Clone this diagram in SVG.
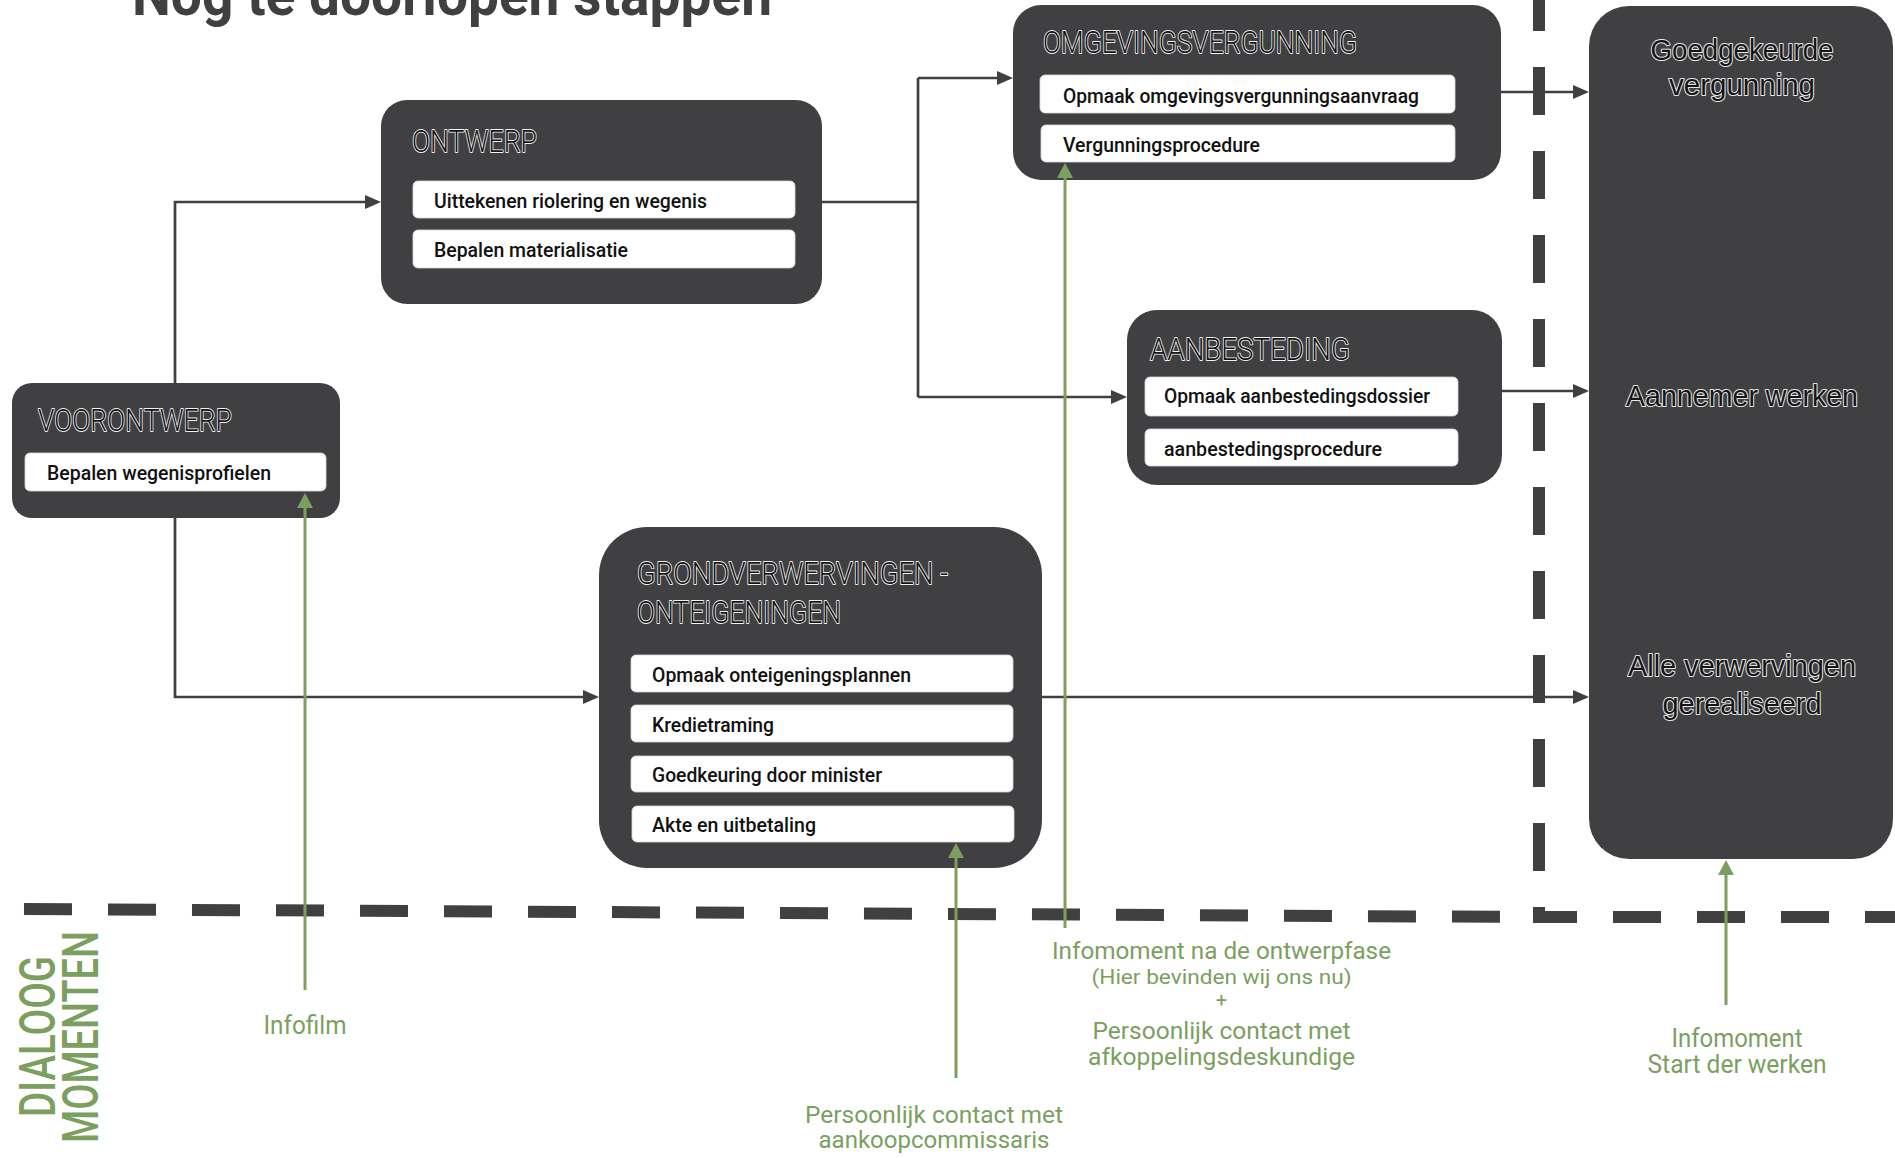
<svg xmlns="http://www.w3.org/2000/svg" width="1895" height="1158" viewBox="0 0 1895 1158">
<defs>
<style>
.node{fill:#404043}
.item{fill:#ffffff;stroke:#d9d9d9;stroke-width:0.8}
.itxt{font-family:Roboto,"Liberation Sans",sans-serif;font-weight:500;font-size:21px;fill:#111111}
.ttl{font-family:Roboto,"Liberation Sans",sans-serif;font-weight:300;font-size:31px;fill:#151515;stroke:#f2f2f2;stroke-width:1.8;paint-order:stroke;stroke-linejoin:round}
.rtxt{font-family:"Liberation Sans",Arial,sans-serif;font-weight:400;font-size:29px;fill:#151515;stroke:#e6e6e6;stroke-width:2;paint-order:stroke;stroke-linejoin:round;text-anchor:middle}
.con{fill:none;stroke:#404043;stroke-width:2.7}
.gcon{fill:none;stroke:#7b9f5f;stroke-width:3}
.dash{fill:none;stroke:#404043;stroke-width:12;stroke-dasharray:48 36}
.gtxt{font-family:Roboto,"Liberation Sans",sans-serif;font-weight:400;fill:#7b9f5f;text-anchor:middle}
.big{font-family:Roboto,"Liberation Sans",sans-serif;font-weight:500;font-size:50px;fill:#7b9f5f}
</style>
<marker id="ah" viewBox="0 0 16 14" refX="12" refY="7" markerWidth="16" markerHeight="14" markerUnits="userSpaceOnUse" orient="auto">
<path d="M0 0 L16 7 L0 14 z" fill="#404043"/>
</marker>
<marker id="gah" viewBox="0 0 15 16" refX="11" refY="8" markerWidth="15" markerHeight="16" markerUnits="userSpaceOnUse" orient="auto">
<path d="M0 0 L15 8 L0 16 z" fill="#7b9f5f"/>
</marker>
</defs>
<rect width="1895" height="1158" fill="#ffffff"/>

<text x="132" y="15" font-family="Roboto,'Liberation Sans',sans-serif" font-weight="700" font-size="60" fill="#404043" textLength="640" lengthAdjust="spacingAndGlyphs">Nog te doorlopen stappen</text>

<g id="dividers">
<path class="dash" d="M24 909 L1530 917"/>
<path class="dash" d="M1539 -17 V917 H1900" stroke-linejoin="miter"/>
</g>

<g id="voorontwerp">
<rect class="node" x="12" y="383" width="328" height="135" rx="20"/>
<text class="ttl" x="38" y="431" textLength="194" lengthAdjust="spacingAndGlyphs">VOORONTWERP</text>
<rect class="item" x="25" y="453" width="301" height="38" rx="5"/>
<text class="itxt" x="47" y="480" textLength="224" lengthAdjust="spacingAndGlyphs">Bepalen wegenisprofielen</text>
</g>

<g id="ontwerp">
<rect class="node" x="381" y="100" width="441" height="204" rx="26"/>
<text class="ttl" x="412" y="152" textLength="125" lengthAdjust="spacingAndGlyphs">ONTWERP</text>
<rect class="item" x="413" y="181" width="382" height="37" rx="5"/>
<text class="itxt" x="434" y="208" textLength="273" lengthAdjust="spacingAndGlyphs">Uittekenen riolering en wegenis</text>
<rect class="item" x="413" y="230" width="382" height="38" rx="5"/>
<text class="itxt" x="434" y="257" textLength="194" lengthAdjust="spacingAndGlyphs">Bepalen materialisatie</text>
</g>

<g id="omgevingsvergunning">
<rect class="node" x="1013" y="5" width="488" height="175" rx="28"/>
<text class="ttl" x="1043" y="53" textLength="314" lengthAdjust="spacingAndGlyphs">OMGEVINGSVERGUNNING</text>
<rect class="item" x="1040" y="75" width="415" height="38" rx="5"/>
<text class="itxt" x="1063" y="103" textLength="356" lengthAdjust="spacingAndGlyphs">Opmaak omgevingsvergunningsaanvraag</text>
<rect class="item" x="1041" y="125" width="414" height="37" rx="5"/>
<text class="itxt" x="1063" y="152" textLength="197" lengthAdjust="spacingAndGlyphs">Vergunningsprocedure</text>
</g>

<g id="aanbesteding">
<rect class="node" x="1127" y="310" width="375" height="175" rx="30"/>
<text class="ttl" x="1150" y="360" textLength="200" lengthAdjust="spacingAndGlyphs">AANBESTEDING</text>
<rect class="item" x="1145" y="377" width="313" height="39" rx="5"/>
<text class="itxt" x="1164" y="403" textLength="266" lengthAdjust="spacingAndGlyphs">Opmaak aanbestedingsdossier</text>
<rect class="item" x="1145" y="429" width="313" height="37" rx="5"/>
<text class="itxt" x="1164" y="456" textLength="218" lengthAdjust="spacingAndGlyphs">aanbestedingsprocedure</text>
</g>

<g id="grondverwervingen">
<rect class="node" x="599" y="527" width="443" height="341" rx="48"/>
<text class="ttl" x="637" y="584" textLength="311" lengthAdjust="spacingAndGlyphs">GRONDVERWERVINGEN -</text>
<text class="ttl" x="637" y="623" textLength="204" lengthAdjust="spacingAndGlyphs">ONTEIGENINGEN</text>
<rect class="item" x="631" y="655" width="382" height="37" rx="5"/>
<text class="itxt" x="652" y="682" textLength="259" lengthAdjust="spacingAndGlyphs">Opmaak onteigeningsplannen</text>
<rect class="item" x="631" y="705" width="382" height="37" rx="5"/>
<text class="itxt" x="652" y="732" textLength="122" lengthAdjust="spacingAndGlyphs">Kredietraming</text>
<rect class="item" x="631" y="756" width="382" height="36" rx="5"/>
<text class="itxt" x="652" y="782" textLength="230" lengthAdjust="spacingAndGlyphs">Goedkeuring door minister</text>
<rect class="item" x="632" y="806" width="382" height="36" rx="5"/>
<text class="itxt" x="652" y="832" textLength="164" lengthAdjust="spacingAndGlyphs">Akte en uitbetaling</text>
</g>

<g id="resultaat">
<rect class="node" x="1589" y="6" width="304" height="853" rx="40"/>
<text class="rtxt" x="1742" y="60" textLength="183" lengthAdjust="spacingAndGlyphs">Goedgekeurde</text>
<text class="rtxt" x="1742" y="95" textLength="146" lengthAdjust="spacingAndGlyphs">vergunning</text>
<text class="rtxt" x="1742" y="406" textLength="232" lengthAdjust="spacingAndGlyphs">Aannemer werken</text>
<text class="rtxt" x="1742" y="676" textLength="228" lengthAdjust="spacingAndGlyphs">Alle verwervingen</text>
<text class="rtxt" x="1742" y="714" textLength="159" lengthAdjust="spacingAndGlyphs">gerealiseerd</text>
</g>

<g id="connectors">
<path class="con" d="M175 383 V202 H377" marker-end="url(#ah)"/>
<path class="con" d="M175 518 V697 H595" marker-end="url(#ah)"/>
<path class="con" d="M822 202 H918"/>
<path class="con" d="M918 78 V397"/>
<path class="con" d="M918 78 H1009" marker-end="url(#ah)"/>
<path class="con" d="M918 397 H1123" marker-end="url(#ah)"/>
<path class="con" d="M1501 92 H1585" marker-end="url(#ah)"/>
<path class="con" d="M1502 391 H1585" marker-end="url(#ah)"/>
<path class="con" d="M1042 697 H1585" marker-end="url(#ah)"/>
<path class="gcon" d="M305 990 V497" marker-end="url(#gah)"/>
<path class="gcon" d="M956 1078 V847" marker-end="url(#gah)"/>
<path class="gcon" d="M1065 928 V167" marker-end="url(#gah)"/>
<path class="gcon" d="M1726 1005 V864" marker-end="url(#gah)"/>
</g>

<g id="dialoog-label">
<text class="big" transform="translate(55,1117) rotate(-90)" textLength="161" lengthAdjust="spacingAndGlyphs">DIALOOG</text>
<text class="big" transform="translate(98,1143) rotate(-90)" textLength="212" lengthAdjust="spacingAndGlyphs">MOMENTEN</text>
</g>

<g id="dialoog-infofilm">
<text class="gtxt" x="305" y="1034" font-size="25" textLength="83" lengthAdjust="spacingAndGlyphs">Infofilm</text>
</g>

<g id="dialoog-aankoop">
<text class="gtxt" x="934" y="1123" font-size="24" textLength="258" lengthAdjust="spacingAndGlyphs">Persoonlijk contact met</text>
<text class="gtxt" x="934" y="1148" font-size="24" textLength="231" lengthAdjust="spacingAndGlyphs">aankoopcommissaris</text>
</g>

<g id="dialoog-ontwerpfase">
<text class="gtxt" x="1221.5" y="959" font-size="23" textLength="339" lengthAdjust="spacingAndGlyphs">Infomoment na de ontwerpfase</text>
<text class="gtxt" x="1221.5" y="984" font-size="20" textLength="260" lengthAdjust="spacingAndGlyphs">(Hier bevinden wij ons nu)</text>
<text class="gtxt" x="1221.5" y="1007" font-size="20">+</text>
<text class="gtxt" x="1221.5" y="1039" font-size="23" textLength="258" lengthAdjust="spacingAndGlyphs">Persoonlijk contact met</text>
<text class="gtxt" x="1221.5" y="1065" font-size="23" textLength="267" lengthAdjust="spacingAndGlyphs">afkoppelingsdeskundige</text>
</g>

<g id="dialoog-start">
<text class="gtxt" x="1737" y="1047" font-size="25" textLength="131" lengthAdjust="spacingAndGlyphs">Infomoment</text>
<text class="gtxt" x="1737" y="1073" font-size="25" textLength="179" lengthAdjust="spacingAndGlyphs">Start der werken</text>
</g>
</svg>
